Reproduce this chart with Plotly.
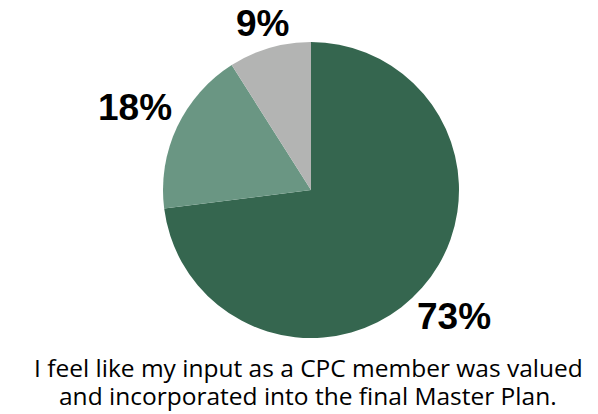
import math
import plotly.graph_objects as go

# Survey response shares
responses = ["Agree", "Neutral", "Disagree"]
shares = [73, 18, 9]
slice_colors = ["#35664F", "#6A9683", "#B3B4B3"]
question_lines = [
    "I feel like my input as a CPC member was valued",
    "and incorporated into the final Master Plan.",
]

# Figure geometry (pixels)
W, H = 598, 414
M_L, M_R, M_T, M_B = 24, 0, 42, 76
RADIUS = (H - M_T - M_B) / 2
LABEL_SIZE = 37
LABEL_GAP = 7
CAPTION_SIZE = 24.5
CAPTION_LINE = 28

fig = go.Figure(
    go.Pie(
        labels=responses,
        values=shares,
        sort=False,
        direction="clockwise",
        rotation=0,
        marker=dict(colors=slice_colors, line=dict(width=0)),
        textinfo="none",
        showlegend=False,
        hoverinfo="label+percent",
    )
)


def text_width(s, size):
    # approximate advance widths for bold sans digits and percent sign
    return sum(0.889 if ch == "%" else 0.556 for ch in s) * size


def label_distance(sx, sy, hw, hh):
    # distance along the ray at which the label box's nearest corner
    # sits LABEL_GAP pixels outside the pie edge
    target = RADIUS + LABEL_GAP
    lo, hi = 0.0, 400.0
    for _ in range(60):
        t = (lo + hi) / 2
        cx, cy = t * sx, t * sy
        nx = cx - math.copysign(hw, cx) if abs(cx) > hw else 0.0
        ny = cy - math.copysign(hh, cy) if abs(cy) > hh else 0.0
        if math.hypot(nx, ny) < target:
            lo = t
        else:
            hi = t
    return (lo + hi) / 2


# Percentage labels placed just outside each slice, along its middle angle
total = sum(shares)
start = 0.0
for v in shares:
    mid = (start + v / 2) / total * 2 * math.pi
    start += v
    sx, sy = math.sin(mid), math.cos(mid)
    label = f"{v}%"
    hw = text_width(label, LABEL_SIZE) / 2
    hh = 0.36 * LABEL_SIZE
    dist = label_distance(sx, sy, hw, hh)
    fig.add_annotation(
        text=label,
        xref="paper", yref="paper",
        x=0.5, y=0.5,
        xanchor="center", yanchor="middle",
        xshift=dist * sx, yshift=dist * sy,
        showarrow=False,
        font=dict(family="Liberation Sans", size=LABEL_SIZE, color="#000000", weight="bold"),
    )

# Question text below the pie, two lines at a tight line spacing
for i, line in enumerate(question_lines):
    fig.add_annotation(
        text=line,
        xref="paper", yref="paper",
        x=0.5, y=0,
        xanchor="center", yanchor="top",
        height=CAPTION_LINE, valign="bottom",
        borderpad=0,
        xshift=-3,
        yshift=-17 - CAPTION_LINE * i,
        showarrow=False,
        font=dict(family="Open Sans", size=CAPTION_SIZE, color="#000000"),
    )

fig.update_layout(
    width=W,
    height=H,
    margin=dict(l=M_L, r=M_R, t=M_T, b=M_B),
    paper_bgcolor="#FFFFFF",
    plot_bgcolor="#FFFFFF",
)

fig.write_html("out.html")
